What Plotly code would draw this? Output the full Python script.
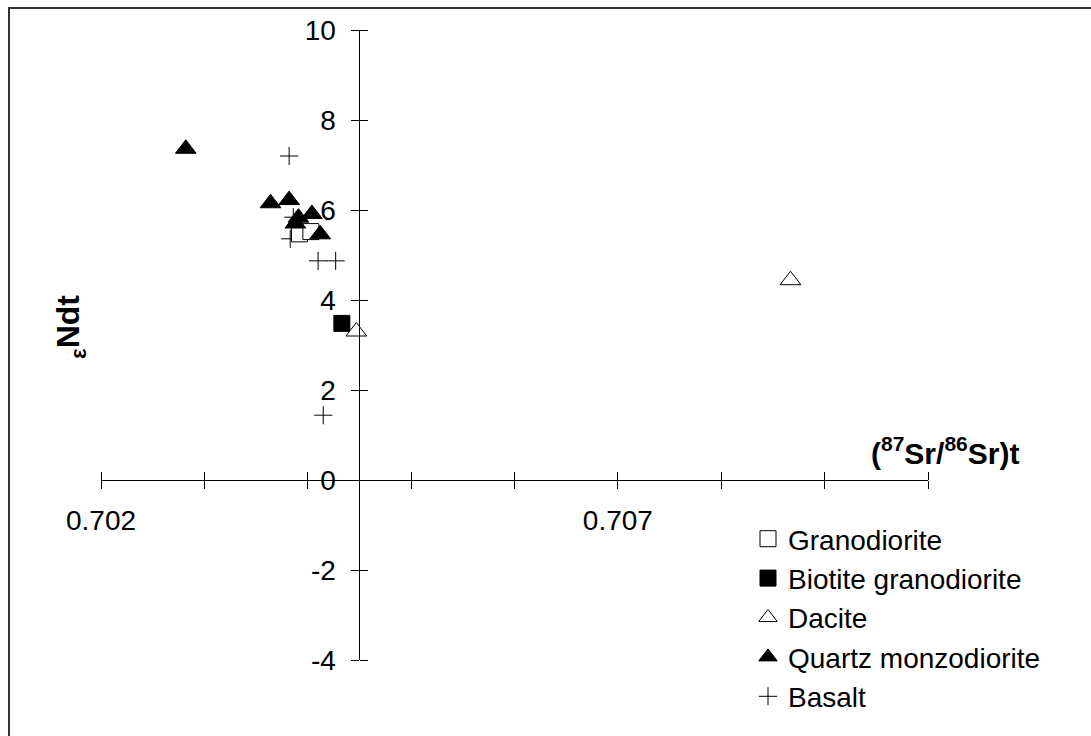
import plotly.graph_objects as go

# Canvas and plot-area geometry (pixels)
W, H = 1091, 736
ML, MR, MT, MB = 101, 163, 30, 76
PW, PH = W - ML - MR, H - MT - MB

# Axis ranges and where the two axes cross
X_RANGE = [0.702, 0.710]
Y_RANGE = [-4, 10]
X_CROSS = 0.7045
Y_CROSS = 0

x_tick_vals = [0.702, 0.703, 0.704, 0.705, 0.706, 0.707, 0.708, 0.709, 0.710]
x_tick_text = ["0.702", "", "", "", "", "0.707", "", "", ""]
y_tick_vals = [-4, -2, 0, 2, 4, 6, 8, 10]
y_tick_text = ["-4", "-2", "0", "2", "4", "6", "8", "10"]

# (87Sr/86Sr)t and eNd(t) by rock type
granodiorite_sr = [0.70392, 0.70403]
granodiorite_nd = [5.47, 5.52]

bt_granodiorite_sr = [0.70433]
bt_granodiorite_nd = [3.48]

dacite_sr = [0.70447, 0.70867]
dacite_nd = [3.30, 4.44]

qmd_sr = [0.70282, 0.70364, 0.70382, 0.70391, 0.70404, 0.70388, 0.70412]
qmd_nd = [7.36, 6.15, 6.22, 5.83, 5.91, 5.70, 5.46]

basalt_sr = [0.70382, 0.70383, 0.70386, 0.70410, 0.70427, 0.70415]
basalt_nd = [7.20, 5.36, 5.84, 4.87, 4.87, 1.44]

FONT = "Arial, Liberation Sans, sans-serif"

fig = go.Figure()

# Basalt crosses sit underneath the other symbols
fig.add_trace(go.Scatter(
    x=basalt_sr, y=basalt_nd, mode="markers", name="Basalt", legendrank=5,
    marker=dict(symbol="cross-thin", size=13, color="black",
                line=dict(color="black", width=1)),
))
fig.add_trace(go.Scatter(
    x=granodiorite_sr, y=granodiorite_nd, mode="markers", name="Granodiorite",
    legendrank=1,
    marker=dict(symbol="square", size=16, color="white",
                line=dict(color="black", width=1)),
))
fig.add_trace(go.Scatter(
    x=bt_granodiorite_sr, y=bt_granodiorite_nd, mode="markers",
    name="Biotite granodiorite", legendrank=2,
    marker=dict(symbol="square", size=16, color="black",
                line=dict(color="black", width=1)),
))
fig.add_trace(go.Scatter(
    x=dacite_sr, y=dacite_nd, mode="markers", name="Dacite", legendrank=3,
    marker=dict(symbol="triangle-up", size=18, color="white",
                line=dict(color="black", width=1)),
))
fig.add_trace(go.Scatter(
    x=qmd_sr, y=qmd_nd, mode="markers", name="Quartz monzodiorite",
    legendrank=4,
    marker=dict(symbol="triangle-up", size=18, color="black",
                line=dict(color="black", width=1)),
))
# Empty trace that anchors the mirrored tick axes
fig.add_trace(go.Scatter(x=[], y=[], xaxis="x2", yaxis="y2",
                         showlegend=False, hoverinfo="skip"))

x_pos = (X_CROSS - X_RANGE[0]) / (X_RANGE[1] - X_RANGE[0])
y_pos = (Y_CROSS - Y_RANGE[0]) / (Y_RANGE[1] - Y_RANGE[0])

common = dict(showgrid=False, zeroline=False, tickcolor="black", ticklen=8,
              tickwidth=1)

fig.update_layout(
    width=W, height=H,
    margin=dict(l=ML, r=MR, t=MT, b=MB, pad=0),
    paper_bgcolor="white", plot_bgcolor="white",
    font=dict(family=FONT, size=28, color="black"),
    xaxis=dict(range=X_RANGE, anchor="free", position=y_pos,
               showline=True, linecolor="black", linewidth=1,
               ticks="outside", tickvals=x_tick_vals, ticktext=x_tick_text,
               ticklabelstandoff=7, tickfont=dict(size=28), **common),
    xaxis2=dict(range=X_RANGE, overlaying="x", anchor="free", position=y_pos,
                side="top", showline=False, ticks="outside",
                tickvals=x_tick_vals, showticklabels=False, **common),
    yaxis=dict(range=Y_RANGE, anchor="free", position=x_pos,
               showline=True, linecolor="black", linewidth=1,
               ticks="outside", tickvals=y_tick_vals, ticktext=y_tick_text,
               ticklabelstandoff=10, tickfont=dict(size=28), **common),
    yaxis2=dict(range=Y_RANGE, overlaying="y", anchor="free", position=x_pos,
                side="right", showline=False, ticks="outside",
                tickvals=y_tick_vals, showticklabels=False, **common),
    legend=dict(x=(748 - ML) / PW, y=(H - MB - 514) / PH,
                xanchor="left", yanchor="top", tracegroupgap=0,
                bgcolor="rgba(0,0,0,0)", font=dict(size=28),
                itemsizing="trace"),
    showlegend=True,
)

def px_to_paper(px, py):
    return (px - ML) / PW, (H - MB - py) / PH

# Axis titles
tx, ty = px_to_paper(945, 451)
fig.add_annotation(x=tx, y=ty, xref="paper", yref="paper", showarrow=False,
                   xanchor="center", yanchor="middle",
                   text="<b>(<sup>87</sup>Sr/<sup>86</sup>Sr)t</b>",
                   font=dict(size=30, family=FONT, color="black"))
tx, ty = px_to_paper(70, 327)
fig.add_annotation(x=tx, y=ty, xref="paper", yref="paper", showarrow=False,
                   xanchor="center", yanchor="middle", textangle=-90,
                   text="<b><sub>ε</sub>Ndt</b>",
                   font=dict(size=32, family=FONT, color="black"))

# Chart frame
fx0, fy0 = px_to_paper(9, 8)
fx1, fy1 = px_to_paper(W + 20, H + 20)
fig.add_shape(type="rect", xref="paper", yref="paper",
              x0=fx0, y0=fy1, x1=fx1, y1=fy0,
              line=dict(color="#333333", width=2), fillcolor="rgba(0,0,0,0)",
              layer="below")

fig.write_html("out.html")
